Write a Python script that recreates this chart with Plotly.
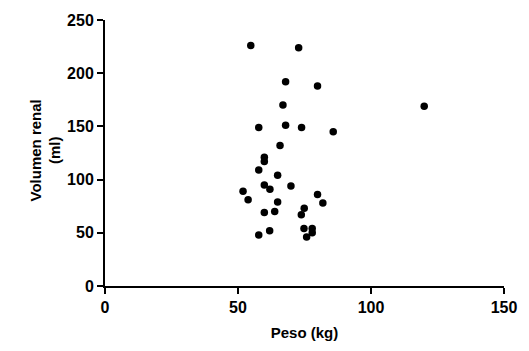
import plotly.graph_objects as go

# Body weight (kg) versus kidney volume (ml)
peso = [54.8, 72.8, 67.9, 79.9, 66.9, 57.8, 67.9, 73.9, 85.8, 65.8, 59.9,
        59.9, 57.8, 64.9, 59.9, 62.0, 69.9, 51.9, 53.8, 64.9, 79.9, 81.9,
        74.9, 73.8, 59.9, 63.8, 74.8, 77.9, 77.9, 75.8, 61.9, 57.8, 120.0]
volumen = [226, 224, 192, 188, 170, 149, 151, 149, 145, 132, 121,
           117, 109, 104, 95, 91, 94, 89, 81, 79, 86, 78,
           73, 67, 69, 70, 54, 54, 50, 46, 52, 48, 169]

x_ticks = [0, 50, 100, 150]
y_ticks = [0, 50, 100, 150, 200, 250]

font_family = "Liberation Sans, Arial, sans-serif"

fig = go.Figure(
    go.Scatter(
        x=peso, y=volumen, mode="markers",
        marker=dict(color="black", size=7.5),
        cliponaxis=False,
    )
)

axis_common = dict(
    showline=True, linecolor="black", linewidth=2,
    ticks="outside", ticklen=6, tickwidth=2, tickcolor="black",
    showgrid=False, zeroline=False,
    tickfont=dict(family=font_family, size=16, color="black"),
)

fig.update_xaxes(
    range=[0, 150], tickvals=x_ticks, ticktext=[f"<b>{v}</b>" for v in x_ticks],
    title=dict(text="<b>Peso (kg)</b>", standoff=12,
               font=dict(family=font_family, size=15, color="black")),
    **axis_common,
)
fig.update_yaxes(
    range=[0, 250], tickvals=y_ticks, ticktext=[f"<b>{v}</b>" for v in y_ticks],
    **axis_common,
)

fig.add_annotation(
    text="<b>Volumen renal<br>(ml)</b>", textangle=-90,
    xref="paper", yref="paper", x=-0.15, y=0.51,
    showarrow=False, xanchor="center", yanchor="middle",
    font=dict(family=font_family, size=15, color="black"),
)

fig.update_layout(
    width=529, height=351,
    margin=dict(l=105, r=19, t=18, b=63),
    plot_bgcolor="white", paper_bgcolor="white",
    showlegend=False,
)

fig.write_html("out.html")
